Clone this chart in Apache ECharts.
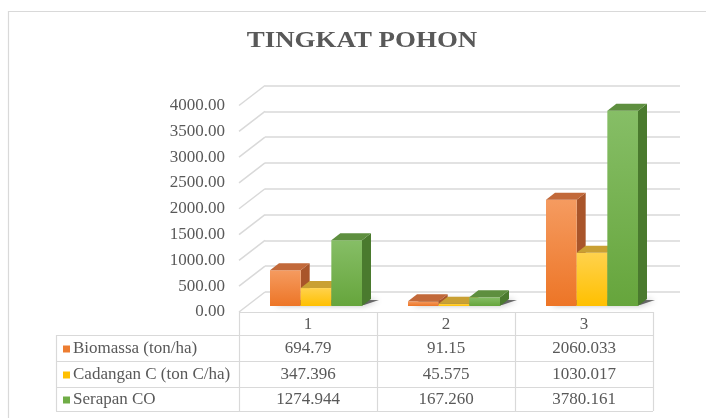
<!DOCTYPE html>
<html>
<head>
<meta charset="utf-8">
<script src="https://cdn.jsdelivr.net/npm/echarts@6/dist/echarts.min.js"></script>
<style>
  html, body { margin: 0; padding: 0; background: #fff; }
  #chart { width: 706px; height: 418px; }
</style>
</head>
<body>
<div id="chart"></div>
<script>
  const categories = ["1", "2", "3"]
  const seriesNames = ["Biomassa (ton/ha)", "Cadangan C (ton C/ha)", "Serapan CO"]
  // values exactly as printed in the data table
  const biomassa = ["694.79", "91.15", "2060.033"]
  const cadangan = ["347.396", "45.575", "1030.017"]
  const serapan = ["1274.944", "167.260", "3780.161"]
  const yTicks = [0, 500, 1000, 1500, 2000, 2500, 3000, 3500, 4000]
  const chartTitle = "TINGKAT POHON"

  const allValues = [biomassa, cadangan, serapan]
  const textColor = "#595959"
  const lineColor = "#D9D9D9"
  const serif = "Liberation Serif"

  // front face gradient (top, bottom), top face, side face, legend key
  const palette = [
    { light: "#F59B60", base: "#ED7526", top: "#C2693A", side: "#A9552A", key: "#ED7D31" },
    { light: "#FFD24D", base: "#FFC000", top: "#C9A033", side: "#B8891A", key: "#FFC000" },
    { light: "#86BE66", base: "#66A53C", top: "#5E8F3F", side: "#4A7A2E", key: "#70AD47" },
  ]

  const depth = [9, -7] // bar depth offset
  const wallDepth = [26, -20] // floor depth offset

  function barRender(k) {
    return function (params, api) {
      const top = api.coord([api.value(0), api.value(1)])
      const base = api.coord([api.value(0), 0])
      const band = api.size([1, 0])[0]
      const groupW = band * 2 / 3
      const w = groupW / 3
      const x0 = top[0] - groupW / 2 + k * w
      const x1 = x0 + w
      const yT = top[1]
      const yB = base[1]
      const c = palette[k]
      return {
        type: "group",
        children: [
          {
            type: "polygon",
            shape: { points: [[x1, yT], [x1 + depth[0], yT + depth[1]], [x1 + depth[0], yB + depth[1]], [x1, yB]] },
            style: { fill: c.side },
          },
          {
            type: "rect",
            shape: { x: x0, y: yT, width: w, height: yB - yT },
            style: {
              fill: new echarts.graphic.LinearGradient(0, 0, 0, 1, [
                { offset: 0, color: c.light },
                { offset: 1, color: c.base },
              ]),
            },
          },
          {
            type: "polygon",
            shape: { points: [[x0, yT], [x0 + depth[0], yT + depth[1]], [x1 + depth[0], yT + depth[1]], [x1, yT]] },
            style: { fill: c.top },
          },
        ],
      }
    }
  }

  function shadowRender(params, api) {
    const base = api.coord([api.value(0), 0])
    const band = api.size([1, 0])[0]
    const half = band / 3
    const x0 = base[0] - half
    const x1 = base[0] + half
    const y = base[1]
    return {
      type: "polygon",
      shape: { points: [[x0 + 4, y - 1], [x1 + 2, y - 1], [x1 + depth[0] + 8, y + depth[1] + 1], [x0 + depth[0] + 4, y + depth[1] + 1]] },
      style: { fill: "rgba(0,0,0,0.55)", shadowBlur: 6, shadowColor: "rgba(0,0,0,0.6)" },
    }
  }

  function wallRender(params, api) {
    const p = api.coord([0, api.value(1)])
    return {
      type: "line",
      shape: { x1: p[0], y1: p[1], x2: p[0] + wallDepth[0], y2: p[1] + wallDepth[1] },
      style: { stroke: lineColor, lineWidth: 1.5 },
    }
  }

  // data table under the plot
  const tableLeft = 56
  const colLeft = 239
  const colW = 138
  const rowTops = [312, 335, 361, 387, 411]
  const tableRight = colLeft + colW * categories.length
  const tableGraphics = []
  rowTops.forEach((y, i) => {
    tableGraphics.push({
      type: "line",
      shape: { x1: i === 0 ? colLeft : tableLeft, y1: y + 0.5, x2: tableRight, y2: y + 0.5 },
      style: { stroke: lineColor, lineWidth: 1.2 },
    })
  })
  tableGraphics.push({
    type: "line",
    shape: { x1: tableLeft + 0.5, y1: rowTops[1], x2: tableLeft + 0.5, y2: rowTops[4] },
    style: { stroke: lineColor, lineWidth: 1.2 },
  })
  for (let i = 0; i <= categories.length; i++) {
    const x = colLeft + colW * i + 0.5
    tableGraphics.push({
      type: "line",
      shape: { x1: x, y1: rowTops[0], x2: x, y2: rowTops[4] },
      style: { stroke: lineColor, lineWidth: 1.2 },
    })
  }
  categories.forEach((c, i) => {
    tableGraphics.push({
      type: "text",
      x: colLeft + colW * (i + 0.5),
      y: (rowTops[0] + rowTops[1]) / 2 + 1,
      style: { text: c, fontFamily: serif, fontSize: 17, fill: textColor, align: "center", verticalAlign: "middle" },
    })
  })
  seriesNames.forEach((name, r) => {
    const cy = (rowTops[r + 1] + rowTops[r + 2]) / 2 + 1
    tableGraphics.push({
      type: "rect",
      shape: { x: 63, y: cy - 3.5, width: 7, height: 7 },
      style: { fill: palette[r].key },
    })
    tableGraphics.push({
      type: "text",
      x: 73,
      y: cy,
      style: { text: name, fontFamily: serif, fontSize: 17, fill: textColor, align: "left", verticalAlign: "middle" },
    })
    allValues[r].forEach((v, i) => {
      tableGraphics.push({
        type: "text",
        x: colLeft + colW * (i + 0.5),
        y: cy,
        style: { text: v, fontFamily: serif, fontSize: 17, fill: textColor, align: "center", verticalAlign: "middle" },
      })
    })
  })
  // chart frame
  tableGraphics.push({
    type: "rect",
    shape: { x: 8.5, y: 11.5, width: 760, height: 450 },
    style: { fill: "none", stroke: lineColor, lineWidth: 1.2 },
    z: -10,
  })
  // title, a little wide like the original
  tableGraphics.push({
    type: "text",
    x: 362,
    y: 41,
    scaleX: 1.17,
    style: {
      text: chartTitle, fontFamily: serif, fontWeight: "bold", fontSize: 23,
      fill: textColor, align: "center", verticalAlign: "middle",
    },
  })

  const yMin = yTicks[0]
  const yMax = yTicks[yTicks.length - 1]
  const yStep = yTicks[1] - yTicks[0]

  const option = {
    backgroundColor: "#fff",
    animation: false,
    graphic: tableGraphics,
    grid: [
      // back wall
      { left: 265, right: 26, top: 85.5, bottom: 126 },
      // front edge (axis labels, side wall lines)
      { left: 239, right: 53, top: 105.5, bottom: 106 },
      // bar front plane
      { left: 247, right: 45, top: 99.5, bottom: 112 },
    ],
    xAxis: [
      { gridIndex: 0, type: "value", min: 0, max: 1, show: false },
      { gridIndex: 1, type: "value", min: 0, max: 1, show: false },
      { gridIndex: 2, type: "category", data: categories, show: false },
    ],
    yAxis: [
      {
        gridIndex: 0, type: "value", min: yMin, max: yMax, interval: yStep,
        axisLine: { show: false }, axisTick: { show: false }, axisLabel: { show: false },
        splitLine: { lineStyle: { color: lineColor, width: 1.5 } },
      },
      {
        gridIndex: 1, type: "value", min: yMin, max: yMax, interval: yStep,
        axisLine: { show: false }, axisTick: { show: false }, splitLine: { show: false },
        axisLabel: {
          margin: 14, color: textColor, fontFamily: serif, fontSize: 17,
          formatter: (v) => v.toFixed(2),
        },
      },
      { gridIndex: 2, type: "value", min: yMin, max: yMax, show: false },
    ],
    series: [
      {
        type: "custom",
        name: "wall",
        xAxisIndex: 1,
        yAxisIndex: 1,
        renderItem: wallRender,
        data: yTicks.map((v) => [0, v]),
        silent: true,
      },
      {
        type: "custom",
        name: "shadow",
        xAxisIndex: 2,
        yAxisIndex: 2,
        renderItem: shadowRender,
        data: categories.map((c, i) => [i, 0]),
        silent: true,
      },
    ].concat(
      allValues.map((vals, k) => ({
        type: "custom",
        name: seriesNames[k],
        xAxisIndex: 2,
        yAxisIndex: 2,
        renderItem: barRender(k),
        data: vals.map((v, i) => [i, Number(v)]),
      }))
    ),
  }

  const myChart = echarts.init(document.getElementById("chart"))
  myChart.setOption(option)
</script>
</body>
</html>
